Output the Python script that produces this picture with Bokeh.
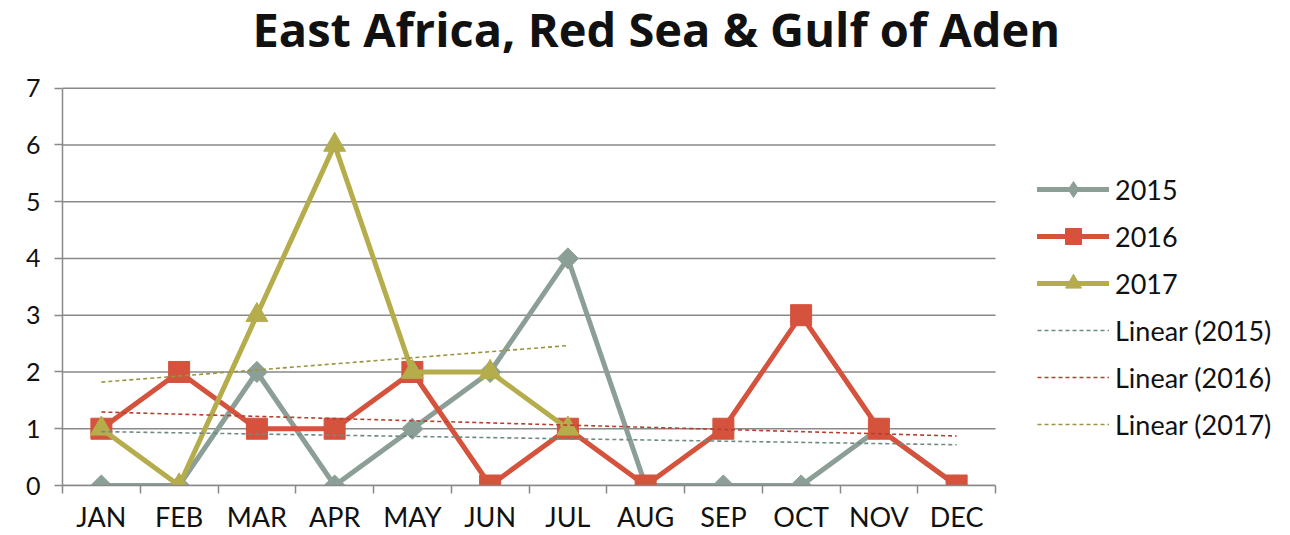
import numpy as np
from bokeh.plotting import figure
from bokeh.models import Range1d, FixedTicker, Legend, LegendItem, Label
from bokeh.embed import file_html
from bokeh.resources import INLINE

months = ["JAN", "FEB", "MAR", "APR", "MAY", "JUN", "JUL", "AUG", "SEP", "OCT", "NOV", "DEC"]
v2015 = [0, 0, 2, 0, 1, 2, 4, 0, 0, 0, 1, 0]
v2016 = [1, 2, 1, 1, 2, 0, 1, 0, 1, 3, 1, 0]
v2017 = [1, 0, 3, 6, 2, 2, 1]
yticks = list(range(0, 8))
title_text = "East Africa, Red Sea & Gulf of Aden"

c2015, c2016, c2017 = "#8C9F96", "#D5523C", "#B5AD4C"
t2015, t2016, t2017 = "#6F8A84", "#B5402F", "#9A9440"
FONT = "Lato"
GRID = "#898989"

# layout (pixels): plot area spans x 62..995, y 88..487; frame extended to page edges
W, H = 1290, 535
left, right_pa, top_pa, bottom = 62, 995, 88, 487
ppx = (right_pa - left) / len(months)
ppy = (bottom - top_pa) / yticks[-1]
x0 = -0.5
x1 = x0 + (W - left) / ppx
y1 = yticks[-1] + top_pa / ppy

p = figure(width=W, height=H, output_backend="svg", toolbar_location=None, title=None,
           x_range=Range1d(x0, x1), y_range=Range1d(0, y1),
           min_border_left=left, min_border_right=0, min_border_top=0, min_border_bottom=H - bottom)
p.outline_line_color = None
p.background_fill_color = "white"
p.border_fill_color = "white"

xs = list(range(len(months)))
nb = len(months) - 0.5
p.xaxis.ticker = FixedTicker(ticks=xs, minor_ticks=[i - 0.5 for i in range(len(months) + 1)])
p.xaxis.bounds = (-0.5, nb)
p.xaxis.major_label_overrides = {i: m for i, m in enumerate(months)}
p.xaxis.major_tick_line_color = None
p.xaxis.minor_tick_in = 0
p.xaxis.minor_tick_out = 8
p.xaxis.minor_tick_line_color = GRID
p.xaxis.minor_tick_line_width = 1.5
p.xaxis.axis_line_color = GRID
p.xaxis.axis_line_width = 1.5
p.xaxis.major_label_text_font = FONT
p.xaxis.major_label_text_font_size = "27px"
p.xaxis.major_label_text_color = "#111111"
p.xaxis.major_label_standoff = 6

p.yaxis.ticker = FixedTicker(ticks=yticks)
p.yaxis.bounds = (yticks[0], yticks[-1])
p.yaxis.major_tick_in = 0
p.yaxis.major_tick_out = 8
p.yaxis.minor_tick_line_color = None
p.yaxis.major_tick_line_color = GRID
p.yaxis.major_tick_line_width = 1.5
p.yaxis.axis_line_color = GRID
p.yaxis.axis_line_width = 1.5
p.yaxis.major_label_text_font = FONT
p.yaxis.major_label_text_font_size = "25px"
p.yaxis.major_label_text_color = "#111111"
p.yaxis.major_label_standoff = 14

p.xgrid.grid_line_color = None
p.ygrid.grid_line_color = None
# horizontal gridlines limited to the plot area
p.segment(x0=[-0.5] * len(yticks), x1=[nb] * len(yticks), y0=yticks, y1=yticks,
          line_color=GRID, line_width=1.5)

rends = {}
for name, vals, col, mk, sz, ang in [("2015", v2015, c2015, "square", 15, np.pi / 4),
                                     ("2016", v2016, c2016, "square", 21, 0),
                                     ("2017", v2017, c2017, "triangle", 22, 0)]:
    x = xs[:len(vals)]
    l = p.line(x, vals, line_color=col, line_width=5, line_join="round", line_cap="round")
    s = p.scatter(x, vals, marker=mk, size=sz, angle=ang, fill_color=col, line_color=col)
    if name == "2015":
        s = p.scatter(x, vals, marker="diamond", size=sz, fill_color=col, line_color=col, visible=False)
    rends[name] = [l, s]

trend_items = []
for name, vals, col in [("2015", v2015, t2015), ("2016", v2016, t2016), ("2017", v2017, t2017)]:
    x = np.arange(len(vals))
    k, b = np.polyfit(x, vals, 1)
    xe = np.array([x[0], x[-1]])
    tl = p.line(xe, k * xe + b, line_color=col, line_width=1.6, line_dash="4 3")
    trend_items.append(LegendItem(label=f"Linear ({name})", renderers=[tl]))

items = [LegendItem(label=name, renderers=rends[name]) for name in ["2015", "2016", "2017"]]
items += trend_items

legend = Legend(items=items, location=(975, 41), orientation="vertical",
                glyph_width=72, glyph_height=40, label_height=40, spacing=7,
                padding=0, margin=0, label_standoff=6,
                label_text_font=FONT, label_text_font_size="27px", label_text_color="#111111",
                border_line_color=None, background_fill_alpha=0)
p.add_layout(legend, "center")

p.add_layout(Label(x=190, y=bottom - 30, x_units="screen", y_units="screen", text=title_text,
                   text_font="Open Sans", text_font_style="bold", text_font_size="47px",
                   text_color="#111111", text_align="left", text_baseline="alphabetic"))

open("out.html", "w").write(file_html(p, INLINE))
